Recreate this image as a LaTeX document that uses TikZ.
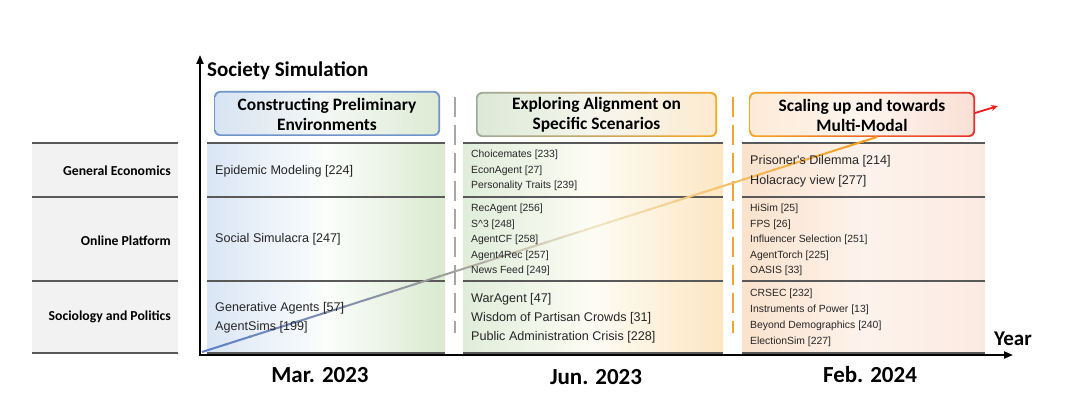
\documentclass[tikz,border=0pt]{standalone}
\usepackage{fontspec}
\setmainfont{Liberation Sans}
\newfontfamily\carfont{Carlito}
\newfontfamily\arifont{Liberation Sans}
\usetikzlibrary{arrows.meta,calc}
\definecolor{rowline}{HTML}{595959}
\definecolor{leftbg}{HTML}{F2F2F2}
\definecolor{hAb}{HTML}{6F94CC}
\definecolor{hAl}{HTML}{D8E4F3}
\definecolor{hAm}{HTML}{F4F7F4}
\definecolor{hAr}{HTML}{DDEBD4}
\definecolor{hBbl}{HTML}{9CA89C}
\definecolor{hBbr}{HTML}{F5A623}
\definecolor{hBl}{HTML}{DCE9D6}
\definecolor{hBm}{HTML}{F6F6EE}
\definecolor{hBr}{HTML}{FDEBD0}
\definecolor{hCbl}{HTML}{F5A623}
\definecolor{hCbr}{HTML}{E8302A}
\definecolor{hCl}{HTML}{FDEBD7}
\definecolor{hCm}{HTML}{FDF5EE}
\definecolor{hCr}{HTML}{FAE0D6}
\definecolor{cAl}{HTML}{DAE6F5}
\definecolor{cAm}{HTML}{FCFDFC}
\definecolor{cAr}{HTML}{D9EACF}
\definecolor{cBl}{HTML}{E0EDDA}
\definecolor{cBm}{HTML}{FDFCF4}
\definecolor{cBr}{HTML}{FDE6C2}
\definecolor{cCl}{HTML}{FAE2CC}
\definecolor{cCm}{HTML}{FDF3EC}
\definecolor{cCr}{HTML}{FBEAE2}
\definecolor{tA}{HTML}{5A7FC8}
\definecolor{tB}{HTML}{9A9A9A}
\definecolor{tC}{HTML}{F1E6C6}
\definecolor{tD}{HTML}{F5C066}
\definecolor{tE}{HTML}{F39A1A}
\definecolor{dashgray}{HTML}{A6A6A6}
\definecolor{dashorange}{HTML}{F2A531}
\definecolor{arrred}{HTML}{EE1C1C}
\begin{document}
\begin{tikzpicture}[x=1pt,y=-1pt,
  rowrule/.style={draw=rowline,line width=1.2pt},
  leftlab/.style={anchor=east,font=\carfont\bfseries\fontsize{13.7}{15}\selectfont,inner sep=0pt},
  headtxt/.style={align=center,font=\carfont\bfseries\fontsize{17.4}{20}\selectfont,inner sep=0pt},
  bigent/.style={anchor=west,align=left,inner sep=0pt,font=\arifont\fontsize{12.6}{19}\selectfont,text=black!85},
  smallent/.style={anchor=west,align=left,inner sep=0pt,font=\arifont\fontsize{10.4}{15.5}\selectfont,text=black!85},
  datelab/.style={font=\carfont\bfseries\fontsize{23}{26}\selectfont,inner sep=0pt},
  axis/.style={line width=2pt,-{Triangle[length=9pt,width=7pt]}},
  vdash/.style={line width=2.2pt,dash pattern=on 20pt off 8pt},
  trend/.style={line width=2pt,line cap=butt}
]
\path[use as bounding box] (0,0) rectangle (1080,398);

% left panel
\fill[leftbg] (32,143) rectangle (178,353);
\foreach \yy in {143,197,281,353} \draw[rowrule] (32,\yy) -- (178,\yy);
\node[leftlab] (lGE) at (171,171) {General Economics};
\node[leftlab] (lOP) at (171,241) {Online Platform};
\node[leftlab] (lSP) at (171,317) {Sociology and Politics};

% column backgrounds
\shade[left color=cAl,right color=cAr,middle color=cAm] (207,143) rectangle (445,353);
\shade[left color=cBl,right color=cBr,middle color=cBm] (463,143) rectangle (723,353);
\shade[left color=cCl,right color=cCr,middle color=cCm] (742,143) rectangle (985,353);
\foreach \xa/\xb in {207/445,463/723,742/985}
  \foreach \yy in {143,197,281,353} \draw[rowrule] (\xa,\yy) -- (\xb,\yy);

% header boxes
\shade[rounded corners=6pt,left color=hAb,right color=hAb] (214,91) rectangle (440,136);
\shade[rounded corners=5pt,left color=hAl,right color=hAr,middle color=hAm] (215.6,92.6) rectangle (438.4,134.4);
\shade[rounded corners=6pt,left color=hBbl,right color=hBbr] (476,92) rectangle (717,137);
\shade[rounded corners=5pt,left color=hBl,right color=hBr,middle color=hBm] (477.6,93.6) rectangle (715.4,135.4);
\shade[rounded corners=6pt,left color=hCbl,right color=hCbr] (749,92) rectangle (975,137);
\shade[rounded corners=5pt,left color=hCl,right color=hCr,middle color=hCm] (750.6,93.6) rectangle (973.4,135.4);
\node[headtxt] (hA) at (327,114) {Constructing Preliminary\\Environments};
\node[headtxt] (hB) at (596.5,115) {Exploring Alignment on\\Specific Scenarios};
\node[headtxt] (hC) at (862,115) {Scaling up and towards\\Multi-Modal};
\coordinate (hCright) at (975,113);
\coordinate (hCend) at (998,106);
\draw[arrred,line width=1.8pt,-{Stealth[length=7pt,width=6pt]}] (hCright) -- (hCend);

% dashed separators
\draw[dashgray,vdash] (455,97) -- (455,333);
\draw[dashorange,vdash] (733,97) -- (733,333);

% trend line
\coordinate (O) at (202,352);
\coordinate (T) at (877,137);
\foreach \a/\b/\ca/\cb in {0/0.35/tA/tB,0.35/0.58/tB/tC,0.58/0.78/tC/tD,0.78/1/tD/tE}{
  \foreach \k in {0,...,9}{
    \pgfmathsetmacro\sa{\a+(\b-\a)*\k/10}
    \pgfmathsetmacro\sb{min(1,\a+(\b-\a)*(\k+1)/10+0.003)}
    \pgfmathtruncatemacro\pc{\k*10+5}
    \draw[trend,color=\cb!\pc!\ca] ($(O)!\sa!(T)$) -- ($(O)!\sb!(T)$);
  }
}

% axes
\coordinate (orig) at (200,355);
\coordinate (ytop) at (200,55);
\coordinate (xend) at (1013,355);
\draw[axis] (orig) -- (ytop);
\draw[axis] ([xshift=-1pt]orig) -- (xend);
\node[font=\carfont\bfseries\fontsize{21}{24}\selectfont,anchor=west,inner sep=0pt] (ttl) at (207,71) {Society Simulation};
\node[font=\carfont\bfseries\fontsize{21}{24}\selectfont,inner sep=0pt] (year) at (1013,339) {Year};

% entries column 1
\node[bigent] (a1) at (215,171) {Epidemic Modeling [224]};
\node[bigent] (a2) at (215,239) {Social Simulacra [247]};
\node[bigent] (a3) at (215,317.5) {Generative Agents [57]\\AgentSims [199]};

% entries column 2
\node[smallent] (b1) at (471,170.5) {Choicemates [233]\\EconAgent [27]\\Personality Traits [239]};
\node[smallent] (b2) at (471,240) {RecAgent [256]\\S\textasciicircum 3 [248]\\AgentCF [258]\\Agent4Rec [257]\\News Feed [249]};
\node[bigent] (b3) at (471,318) {WarAgent [47]\\Wisdom of Partisan Crowds [31]\\Public Administration Crisis [228]};

% entries column 3
\node[bigent,font=\arifont\fontsize{12.6}{20}\selectfont] (c1) at (750,171) {Prisoner's Dilemma [214]\\Holacracy view [277]};
\node[smallent] (c2) at (750,240) {HiSim [25]\\FPS [26]\\Influencer Selection [251]\\AgentTorch [225]\\OASIS [33]};
\node[smallent,font=\arifont\fontsize{10.4}{16}\selectfont] (c3) at (750,318) {CRSEC [232]\\Instruments of Power [13]\\Beyond Demographics [240]\\ElectionSim [227]};

% dates
\node[datelab] (d1) at (320,375) {Mar. 2023};
\node[datelab] (d2) at (596,377) {Jun. 2023};
\node[datelab] (d3) at (870,375) {Feb. 2024};
\end{tikzpicture}
\end{document}
